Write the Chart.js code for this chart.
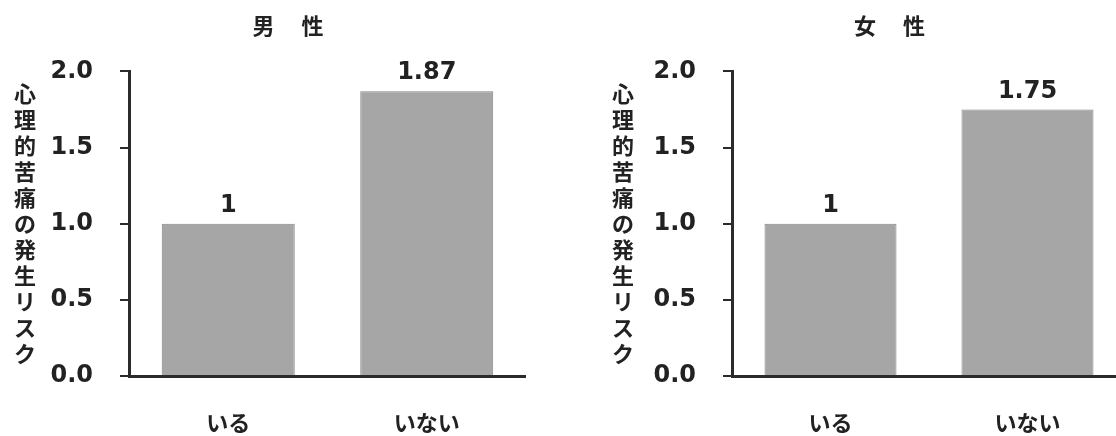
<!DOCTYPE html>
<html>
<head>
<meta charset="utf-8">
<script src="https://cdn.jsdelivr.net/npm/chart.js@4.4.1/dist/chart.umd.min.js"></script>
<style>
  html, body { margin: 0; padding: 0; background: #fff; overflow: hidden; }
  #wrap { position: relative; width: 1116px; height: 436px; overflow: hidden; }
  .box { position: absolute; top: 0; height: 436px; }
  #boxMale { left: 0; width: 526px; }
  #boxFemale { left: 556px; width: 570px; }
</style>
</head>
<body>
<div id="wrap">
  <div class="box" id="boxMale"><canvas id="maleChart"></canvas></div>
  <div class="box" id="boxFemale"><canvas id="femaleChart"></canvas></div>
</div>
<script>
// Data
const categories = ['いる', 'いない'];
const maleRisk = [1, 1.87];
const femaleRisk = [1, 1.75];
const yTickLabels = ['0.0', '0.5', '1.0', '1.5', '2.0'];
const yAxisTitle = '心理的苦痛の発生リスク';

const TEXT = '#222222';
const AXIS = '#2b2b2b';
const NUM_FONT = "'DejaVu Sans', Verdana, sans-serif";
const JP_FONT = "'Noto Sans CJK JP', sans-serif";

// Value labels above each bar
const valueLabelPlugin = {
  id: 'valueLabels',
  afterDatasetsDraw(chart) {
    const ctx = chart.ctx;
    const meta = chart.getDatasetMeta(0);
    const values = chart.data.datasets[0].data;
    ctx.save();
    ctx.font = 'bold 24px ' + NUM_FONT;
    ctx.fillStyle = TEXT;
    ctx.textAlign = 'center';
    ctx.textBaseline = 'bottom';
    meta.data.forEach((bar, i) => {
      ctx.fillText(String(values[i]), bar.x, bar.y - 6);
    });
    ctx.restore();
  }
};

// Upright vertical y-axis title (one character per row)
const verticalTitlePlugin = {
  id: 'verticalTitle',
  afterDraw(chart, args, opts) {
    const y = chart.scales.y;
    const chars = Array.from(opts.text || '');
    const step = 26;
    const mid = (y.top + y.bottom) / 2;
    const x = y.left - opts.offset;
    const ctx = chart.ctx;
    ctx.save();
    ctx.font = 'bold 22px ' + JP_FONT;
    ctx.fillStyle = TEXT;
    ctx.textAlign = 'center';
    ctx.textBaseline = 'middle';
    chars.forEach((c, i) => {
      ctx.fillText(c, x, mid + (i - (chars.length - 1) / 2) * step);
    });
    ctx.restore();
  }
};

function makeChart(canvasId, title, values, padLeft, titleOffset) {
  const ctx = document.getElementById(canvasId).getContext('2d');
  return new Chart(ctx, {
    type: 'bar',
    data: {
      labels: categories,
      datasets: [{
        data: values,
        backgroundColor: '#a6a6a6',
        borderColor: '#858585',
        borderWidth: 1,
        barPercentage: 0.67,
        categoryPercentage: 1.0
      }]
    },
    options: {
      responsive: true,
      maintainAspectRatio: false,
      animation: false,
      layout: { padding: { left: padLeft, right: 0, top: 0, bottom: 0 } },
      plugins: {
        legend: { display: false },
        tooltip: { enabled: false },
        title: {
          display: true,
          text: title,
          color: TEXT,
          font: { family: JP_FONT, size: 22, weight: 'bold' },
          padding: { top: 12, bottom: 33 }
        },
        verticalTitle: { text: yAxisTitle, offset: titleOffset }
      },
      scales: {
        x: {
          grid: { display: false, drawTicks: false },
          border: { display: true, color: AXIS, width: 3 },
          ticks: {
            color: TEXT,
            padding: 33,
            font: { family: JP_FONT, size: 22, weight: 'bold' }
          },
          // keep the axis band the height it has in the reference
          afterFit: s => { s.height = 60; }
        },
        y: {
          min: 0,
          max: 2,
          grid: {
            drawOnChartArea: false,
            drawTicks: true,
            tickLength: 9,
            color: AXIS,
            lineWidth: 2
          },
          border: { display: true, color: AXIS, width: 3 },
          ticks: {
            stepSize: 0.5,
            padding: 27,
            color: TEXT,
            font: { family: NUM_FONT, size: 24, weight: 'bold' },
            callback: (value, index) => yTickLabels[index]
          },
          afterFit: s => { s.width = 79; }
        }
      }
    },
    plugins: [valueLabelPlugin, verticalTitlePlugin]
  });
}

makeChart('maleChart', '男　 性', maleRisk, 50, 25);
makeChart('femaleChart', '女　 性', femaleRisk, 97, 30);
</script>
</body>
</html>
